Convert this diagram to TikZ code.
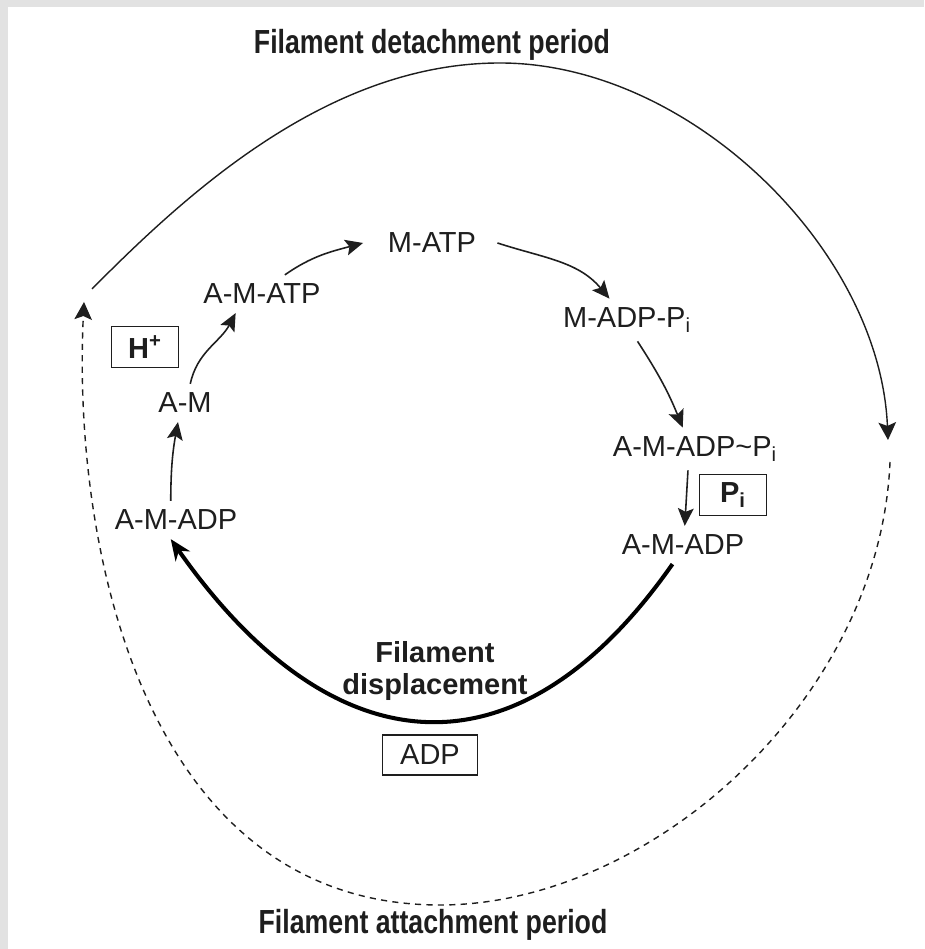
\documentclass[tikz,border=0pt]{standalone}
\usepackage{fontspec}
\setmainfont{Liberation Sans}
\newfontfamily\narrowfont[FakeStretch=0.8]{Liberation Sans}
\usetikzlibrary{arrows.meta}
\definecolor{framegray}{RGB}{226,226,226}
\definecolor{ink}{RGB}{30,30,30}
\tikzset{
	>={Stealth[length=10pt, width=9pt, inset=2pt]}, % filled arrow heads
	species/.style={text=ink, font=\fontsize{16.5}{18}\selectfont, inner sep=5pt}, % the states of the cycle
	released/.style={draw=ink, line width=0.7pt, text=ink, inner sep=0pt, minimum width=1.34cm, minimum height=0.82cm, font=\fontsize{16.5}{18}\selectfont}, % boxed products
	period/.style={text=ink, font=\narrowfont\bfseries\fontsize{19}{22}\selectfont}, % the two period titles
	react/.style={->, draw=ink, line width=0.9pt}, % thin reaction arrows
	powerstroke/.style={->, draw=black, line width=2.3pt, >={Stealth[length=12pt, width=10pt]}}, % thick arrow
	period line/.style={->, draw=ink, line width=0.8pt, >={Stealth[length=10pt, width=10pt, inset=2pt, sep=0pt]}},
}
\begin{document}
\begin{tikzpicture}[x=0.02cm, y=0.02cm]
	\fill[white] (0,0) rectangle (924,949);
	\fill[framegray] (0,942) rectangle (924,949);
	\fill[framegray] (0,0) rectangle (8,949);
	\useasboundingbox (0,0) rectangle (924,949);

	% titles
	\node[period] (tdet) at (432,904) {Filament detachment period};
	\node[period] (tatt) at (433,24) {Filament attachment period};

	% the cycle
	\node[species] (matp) at (432,706) {M-ATP};
	\node[species] (amatp) at (262,655) {A-M-ATP};
	\node[species] (am) at (185,546) {A-M};
	\node[species] (amadpL) at (176,429) {A-M-ADP};
	\node[species] (madppi) at (627,629) {M-ADP-P\textsubscript{i}};
	\node[species] (amadppi) at (695,500) {A-M-ADP\textasciitilde P\textsubscript{i}};
	\node[species] (amadpR) at (683,404) {A-M-ADP};

	\node[released, font=\bfseries\fontsize{16.5}{18}\selectfont] (hplus) at (145,602) {H\textsuperscript{+}};
	\node[released, font=\bfseries\fontsize{16.5}{18}\selectfont] (pi) at (733,454) {P\textsubscript{i}};
	\node[released, minimum width=1.9cm, minimum height=0.8cm] (adp) at (430,194) {ADP};
	\node[species, font=\bfseries\fontsize{16.5}{18}\selectfont, align=center, inner sep=0pt] (disp) at (435,278) {Filament\\displacement};

	\draw[react] ([xshift=-3pt]amadpL.north) to[bend left=5] ([xshift=-4pt]am.south);
	\draw[react] ([xshift=3pt]am.north) to[out=78, in=-118] ([xshift=-15pt]amatp.south);
	\draw[react] ([xshift=13pt]amatp.north) to[out=35, in=195] ([xshift=-9pt]matp.west);
	\draw[react] ([xshift=7pt]matp.east) to[out=-18, in=130] ([xshift=-10pt]madppi.north);
	\draw[react] ([xshift=6pt]madppi.south) to[out=-57, in=112] ([xshift=-7pt]amadppi.north);
	\draw[react] ([xshift=-4pt]amadppi.south) -- ([xshift=1pt]amadpR.north);

	\draw[powerstroke] ([xshift=-6pt]amadpR.south) to[out=-125, in=-55, looseness=1.4] ([xshift=-3pt]amadpL.south);

	% outer periods
	\coordinate (detS) at (92,660);
	\coordinate (detTop) at (500,886);
	\coordinate (detE) at (888,509);
	\coordinate (attS) at (890,487);
	\coordinate (attBot) at (440,44);
	\coordinate (attE) at (84,647);

	\draw[period line] (detS) .. controls (190,759) and (330,886) .. (detTop)
		.. controls (690,886) and (880,699) .. (detE);
	\draw[period line, dash pattern=on 3.5pt off 3pt] (attS) .. controls (880,249) and (650,44) .. (attBot)
		.. controls (145,44) and (72,400) .. (attE);
\end{tikzpicture}
\end{document}
